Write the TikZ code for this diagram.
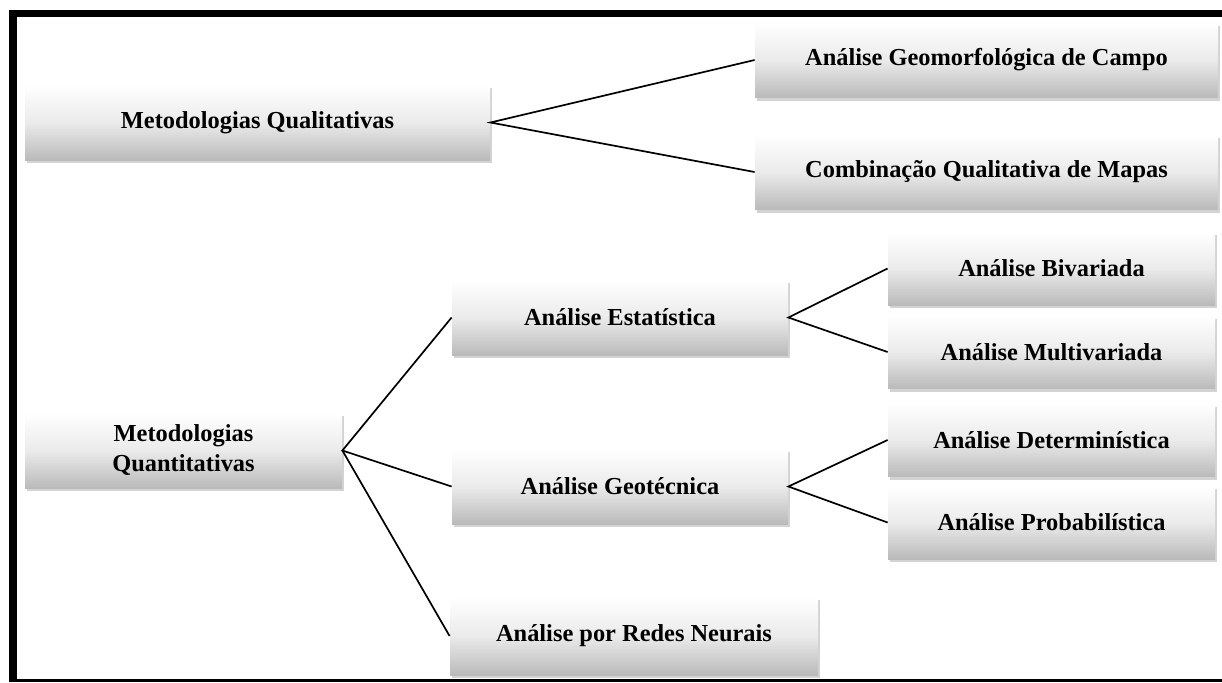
\documentclass[tikz,border=0pt]{standalone}
\usepackage{fontspec}
\setmainfont{Liberation Serif}
\usetikzlibrary{shadows}

\tikzset{
  caixa/.style={rectangle, inner sep=0pt, minimum height=37.5pt, align=center,
    top color=white, bottom color=black!27, middle color=black!8,
    font=\fontsize{12.2}{15}\selectfont\bfseries,
    drop shadow={shadow xshift=1pt, shadow yshift=-1.5pt, opacity=0.35}},
  ramo/.style={line width=0.85pt}
}

\begin{document}
\begin{tikzpicture}[x=0.5pt,y=-0.5pt]
\useasboundingbox (0,0) rectangle (1222,682);
% moldura
\fill (9,10) rectangle (1222,17);
\fill (9,10) rectangle (17,682);
\fill (9,679) rectangle (1222,682);

\path (257.5,122.5) node[caixa, minimum width=232.5pt] (ql) {Metodologias Qualitativas}
      (986.5,60) node[caixa, minimum width=231.5pt] (ql1) {Análise Geomorfológica de Campo}
      (986.5,172) node[caixa, minimum width=231.5pt] (ql2) {Combinação Qualitativa de Mapas}
      (183.5,450.5) node[caixa, minimum width=158.5pt] (qt) {Metodologias\\Quantitativas}
      (620,317.5) node[caixa, minimum width=168pt] (est) {Análise Estatística}
      (620,486.5) node[caixa, minimum width=168pt] (geo) {Análise Geotécnica}
      (634,636) node[caixa, minimum width=184pt, minimum height=39pt] (rn) {Análise por Redes Neurais}
      (1051.5,268.5) node[caixa, minimum width=163.5pt, minimum height=36.5pt] (biv) {Análise Bivariada}
      (1051.5,352) node[caixa, minimum width=163.5pt, minimum height=36.5pt] (mult) {Análise Multivariada}
      (1051.5,440) node[caixa, minimum width=163.5pt, minimum height=36.5pt] (det) {Análise Determinística}
      (1051.5,522.5) node[caixa, minimum width=163.5pt, minimum height=36.5pt] (prob) {Análise Probabilística}
      ;

\draw[ramo] (ql1.west) -- (ql.east) -- (ql2.west);
\draw[ramo] (est.west) -- (qt.east) -- (geo.west);
\draw[ramo] (qt.east) -- (rn.west);
\draw[ramo] (biv.west) -- (est.east) -- (mult.west);
\draw[ramo] (det.west) -- (geo.east) -- (prob.west);
\end{tikzpicture}
\end{document}
